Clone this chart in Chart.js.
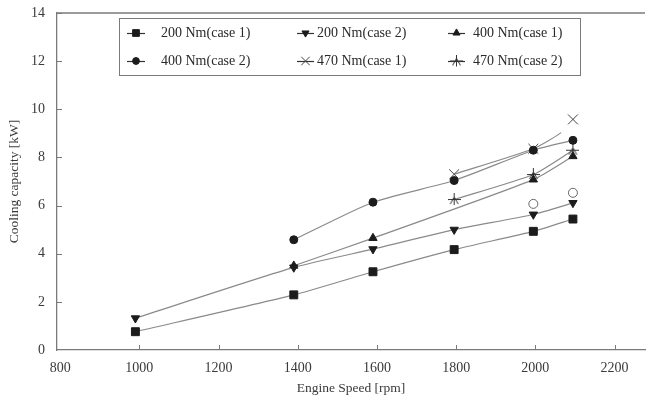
<!DOCTYPE html>
<html>
<head>
<meta charset="utf-8">
<script src="https://cdn.jsdelivr.net/npm/chart.js@4.4.0/dist/chart.umd.min.js"></script>
<style>
  html, body { margin: 0; padding: 0; background: #fff; }
  #wrap { width: 653px; height: 405px; position: relative; }
</style>
</head>
<body>
<div id="wrap"><canvas id="chart"></canvas></div>
<script>
// axis ticks
const xTicks = [800, 1000, 1200, 1400, 1600, 1800, 2000, 2200];
const yTicks = [0, 2, 4, 6, 8, 10, 12, 14];

const seriesLabels = ['200 Nm(case 1)', '200 Nm(case 2)', '400 Nm(case 1)', '400 Nm(case 2)', '470 Nm(case 1)', '470 Nm(case 2)'];

// engine speed [rpm] / cooling capacity [kW] per case
const speed200c1 = [990, 1390, 1590, 1795, 1995, 2095];
const cool200c1 = [0.76, 2.29, 3.25, 4.17, 4.93, 5.44];

const speed200c2 = [990, 1390, 1590, 1795, 1995, 2095];
const cool200c2 = [1.32, 3.43, 4.19, 5.0, 5.63, 6.11];

const speed400c1 = [1390, 1590, 1995, 2095];
const cool400c1 = [3.5, 4.65, 7.08, 8.05];

const speed400c2 = [1390, 1590, 1795, 1995, 2095];
const cool400c2 = [4.58, 6.14, 7.04, 8.3, 8.71];

const speed470c1 = [1795, 1995, 2065, 2095];
const cool470c1 = [7.3, 8.36, 9.03, 9.58];

const speed470c2 = [1795, 1995, 2095];
const cool470c2 = [6.25, 7.29, 8.3];

// open circles, not in the legend
const speedOpen = [1995, 2095];
const coolOpen = [6.07, 6.53];

const LINE = '#8a8a8a';
const MARK = '#1c1c1c';
const AXIS = '#7a7a7a';
const FONT = "'Liberation Serif', 'Times New Roman', serif";

const pts = (xs, ys) => xs.map((x, i) => ({ x, y: ys[i] }));

// "+" with a small inverted V, used for 470 Nm(case 2)
function makePlusMark() {
  const c = document.createElement('canvas');
  c.width = 13; c.height = 13;
  const g = c.getContext('2d');
  g.strokeStyle = '#333';
  g.lineWidth = 1;
  g.beginPath();
  g.moveTo(0, 6.5); g.lineTo(13, 6.5);
  g.moveTo(6.5, 0); g.lineTo(6.5, 12);
  g.moveTo(6.5, 4); g.lineTo(2.5, 11);
  g.moveTo(6.5, 4); g.lineTo(10.5, 11);
  g.stroke();
  return c;
}
const plusMark = makePlusMark();

function series(label, xs, ys, style, extra) {
  return Object.assign({
    label,
    data: pts(xs, ys),
    borderColor: LINE,
    borderWidth: 1.2,
    backgroundColor: MARK,
    pointBackgroundColor: MARK,
    pointBorderColor: MARK,
    pointBorderWidth: 1,
    pointStyle: style,
    pointRadius: 4,
    tension: 0.2
  }, extra || {});
}

const datasets = [
  series(seriesLabels[0], speed200c1, cool200c1, 'rect', { pointRadius: 5.6 }),
  series(seriesLabels[1], speed200c2, cool200c2, 'triangle', { pointRotation: 180, pointRadius: 4.8 }),
  series(seriesLabels[2], speed400c1, cool400c1, 'triangle', { pointRadius: 4.8 }),
  series(seriesLabels[3], speed400c2, cool400c2, 'circle', { pointRadius: 4 }),
  series(seriesLabels[4], speed470c1, cool470c1, 'crossRot', {
    pointRadius: [7, 7, 0, 7],
    pointBorderColor: '#444',
    segment: { borderColor: c => c.p0DataIndex === 2 ? 'rgba(0,0,0,0)' : LINE }
  }),
  series(seriesLabels[5], speed470c2, cool470c2, plusMark, { pointRadius: 6 }),
  {
    label: '',
    data: pts(speedOpen, coolOpen),
    showLine: false,
    pointStyle: 'circle',
    pointRadius: 4.5,
    pointBorderWidth: 1,
    pointBackgroundColor: '#fff',
    pointBorderColor: '#666'
  }
];

// frame top line + inward tick marks
const framePlugin = {
  id: 'frame',
  afterDraw(chart) {
    const { ctx, chartArea: a, scales } = chart;
    ctx.save();
    ctx.strokeStyle = AXIS;
    ctx.lineWidth = 1.3;
    ctx.beginPath();
    ctx.moveTo(a.left, a.top);
    ctx.lineTo(a.right, a.top);
    ctx.stroke();
    ctx.lineWidth = 1;
    ctx.beginPath();
    scales.y.ticks.forEach(t => {
      const y = Math.round(scales.y.getPixelForValue(t.value)) + 0.5;
      if (t.value === 0) return;
      ctx.moveTo(a.left, y);
      ctx.lineTo(a.left + 5, y);
    });
    scales.x.ticks.forEach(t => {
      if (t.value === xTicks[0]) return;
      const x = Math.round(scales.x.getPixelForValue(t.value)) + 0.5;
      ctx.moveTo(x, a.bottom);
      ctx.lineTo(x, a.bottom - 5);
    });
    ctx.stroke();
    ctx.restore();
  }
};

// boxed legend, three columns by two rows
const legendBox = { left: 119, top: 18, right: 580, bottom: 75 };
const legendRows = [33, 61];
const legendCols = [
  { line: 127, len: 18, text: 161 },
  { line: 297, len: 17, text: 317 },
  { line: 448, len: 17, text: 473 }
];

const boxLegendPlugin = {
  id: 'boxLegend',
  afterDraw(chart) {
    const ctx = chart.ctx;
    ctx.save();
    ctx.fillStyle = '#fff';
    ctx.fillRect(legendBox.left, legendBox.top, legendBox.right - legendBox.left, legendBox.bottom - legendBox.top);
    ctx.strokeStyle = AXIS;
    ctx.lineWidth = 1;
    ctx.strokeRect(legendBox.left + 0.5, legendBox.top + 0.5, legendBox.right - legendBox.left, legendBox.bottom - legendBox.top);
    ctx.font = `14px ${FONT}`;
    ctx.textBaseline = 'middle';
    seriesLabels.forEach((label, i) => {
      const ds = chart.data.datasets[i];
      const col = legendCols[i % 3];
      const y = legendRows[Math.floor(i / 3)];
      ctx.strokeStyle = '#333';
      ctx.lineWidth = 1.2;
      ctx.beginPath();
      ctx.moveTo(col.line, y + 0.5);
      ctx.lineTo(col.line + col.len, y + 0.5);
      ctx.stroke();
      const r = Array.isArray(ds.pointRadius) ? ds.pointRadius[0] : ds.pointRadius;
      ctx.fillStyle = MARK;
      ctx.strokeStyle = typeof ds.pointBorderColor === 'string' ? ds.pointBorderColor : MARK;
      ctx.lineWidth = 1;
      Chart.helpers.drawPoint(ctx, {
        pointStyle: ds.pointStyle,
        rotation: ds.pointRotation || 0,
        radius: r * 0.85,
        borderWidth: 1
      }, col.line + col.len / 2, y);
      ctx.fillStyle = '#2a2a2a';
      ctx.fillText(label, col.text, y);
    });
    ctx.restore();
  }
};

new Chart(document.getElementById('chart'), {
  type: 'line',
  data: { datasets },
  options: {
    responsive: true,
    maintainAspectRatio: false,
    animation: false,
    layout: { padding: { top: 13, right: 2, left: 0, bottom: 0 } },
    plugins: { legend: { display: false }, tooltip: { enabled: false } },
    scales: {
      x: {
        type: 'linear',
        min: 792,
        max: 2277,
        afterFit: s => { s.height = 55; },
        afterBuildTicks: s => { s.ticks = xTicks.map(v => ({ value: v })); },
        grid: { display: false },
        border: { color: AXIS, width: 1.3 },
        ticks: {
          color: '#3a3a3a',
          padding: 2,
          maxRotation: 0,
          font: { family: FONT, size: 14 },
          callback: v => String(v)
        },
        title: {
          display: true,
          text: 'Engine Speed [rpm]',
          color: '#3a3a3a',
          font: { family: FONT, size: 13.5 },
          padding: { top: 0, bottom: 8 }
        }
      },
      y: {
        min: 0,
        max: 14,
        afterFit: s => { s.width = 57; },
        afterBuildTicks: s => { s.ticks = yTicks.map(v => ({ value: v })); },
        grid: { display: false },
        border: { color: AXIS, width: 1.3 },
        ticks: { color: '#3a3a3a', padding: 4, font: { family: FONT, size: 14 } },
        title: {
          display: true,
          text: 'Cooling capacity [kW]',
          color: '#3a3a3a',
          font: { family: FONT, size: 13.5 },
          padding: { top: 6, bottom: 0 }
        }
      }
    }
  },
  plugins: [framePlugin, boxLegendPlugin]
});
</script>
</body>
</html>
